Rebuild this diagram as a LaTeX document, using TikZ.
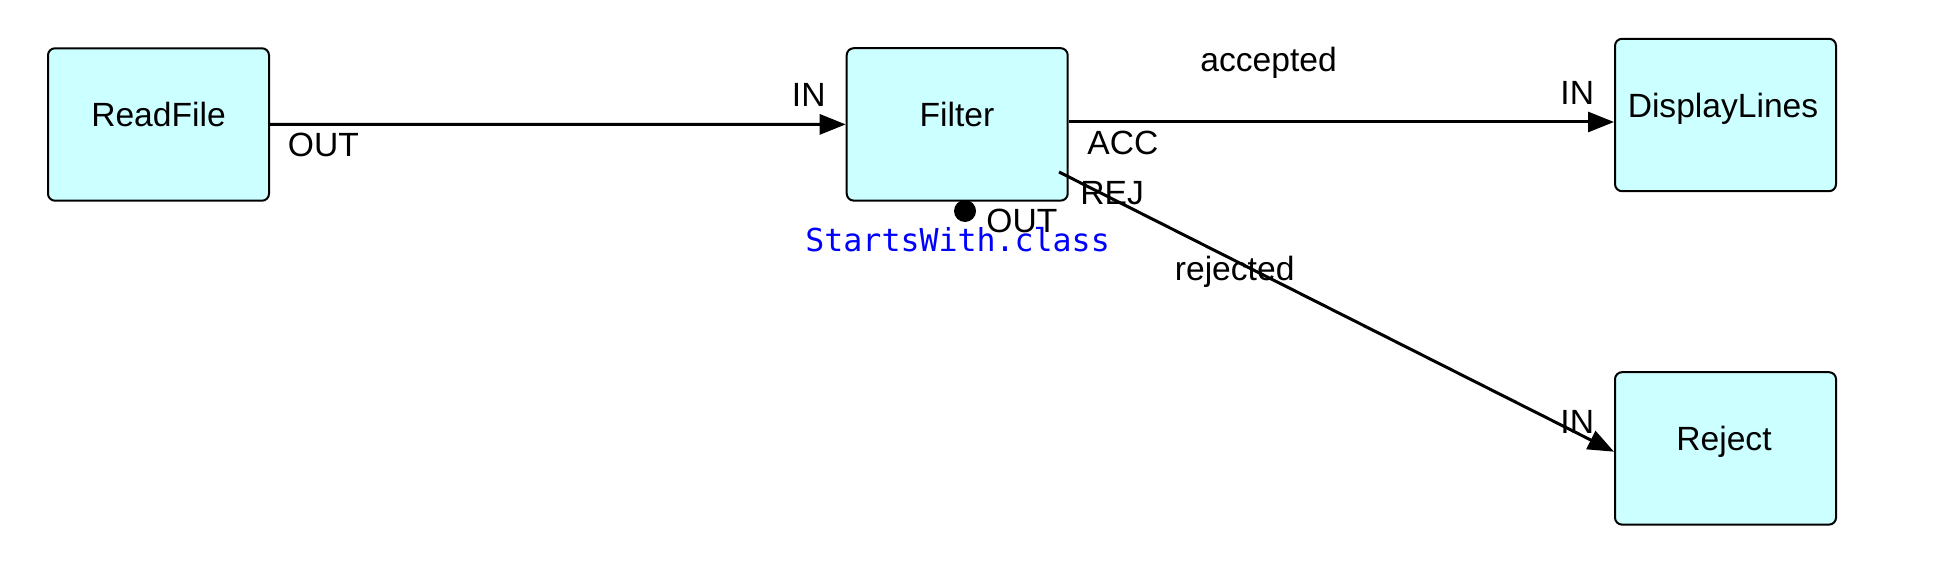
\documentclass[tikz,border=0pt]{standalone}
\usepackage{fontspec}
\setmainfont{Liberation Sans}
\newfontfamily\codefont{DejaVu Sans Mono}
\usetikzlibrary{arrows.meta,calc}
\definecolor{boxfill}{RGB}{204,255,255}
\definecolor{codeblue}{RGB}{0,0,255}
\tikzset{
  box/.style={draw=black, fill=boxfill, line width=1pt, rounded corners=3.5pt,
    minimum width=110.5pt, minimum height=76.2pt, inner sep=0pt},
  txt/.style={inner sep=0pt, font=\fontsize{16.8}{20}\selectfont},
  portlbl/.style={txt, anchor=base west},
  boxlbl/.style={txt, anchor=base},
  code/.style={inner sep=0pt, anchor=base west, text=codeblue, font=\codefont\fontsize{15.8}{19}\selectfont},
  flow/.style={line width=1.5pt, -{Triangle[length=13pt, width=10pt]}},
  portdot/.style={circle, fill=black, inner sep=0pt, minimum size=11pt}
}
\begin{document}
\begin{tikzpicture}[x=0.5pt, y=-0.5pt]
\useasboundingbox[fill=white] (0,0) rectangle (1958,588);

% boxes
\node[box] (rf)  at (158.5,124.5) {};
\node[box] (flt) at (957.2,124.4) {};
\node[box] (dl)  at (1725.5,115) {};
\node[box] (rj)  at (1725.5,448.4) {};

% box texts
\node[boxlbl] (rft)  at (158.5,126.7) {ReadFile};
\node[boxlbl] (fltt) at (957,127) {Filter};
\node[boxlbl] (dlt)  at (1723,117.3) {DisplayLines};
\node[boxlbl] (rjt)  at (1724,450.7) {Reject};

% connector end points
\coordinate (accout) at ($(flt.east)+(0,-2.4)$);
\coordinate (rejout) at (1059,172);
\coordinate (rjin) at ($(rj.west)+(0,3.3)$);

% connectors
\draw[flow] (rf.east) -- (flt.west);
\draw[flow] (accout) -- (accout -| dl.west);
\draw[flow] (rejout) -- (rjin);

% port dot
\node[portdot] (dot) at (965,211) {};

% port and edge labels
\node[portlbl] (rfout) at (287.5,157) {OUT};
\node[portlbl] (fltin) at (791.5,107) {IN};
\node[portlbl] (acc)   at (1087,155) {ACC};
\node[portlbl] (rej)   at (1080,205) {REJ};
\node[portlbl] (fout)  at (986,233) {OUT};
\node[portlbl] (accl)  at (1200,71.7) {accepted};
\node[portlbl] (dlin)  at (1560,105) {IN};
\node[portlbl] (rejl)  at (1174.5,280) {rejected};
\node[portlbl] (rjinl) at (1560,433) {IN};
\node[code] (cls) at (805,251.7) {StartsWith.class};
\end{tikzpicture}
\end{document}
